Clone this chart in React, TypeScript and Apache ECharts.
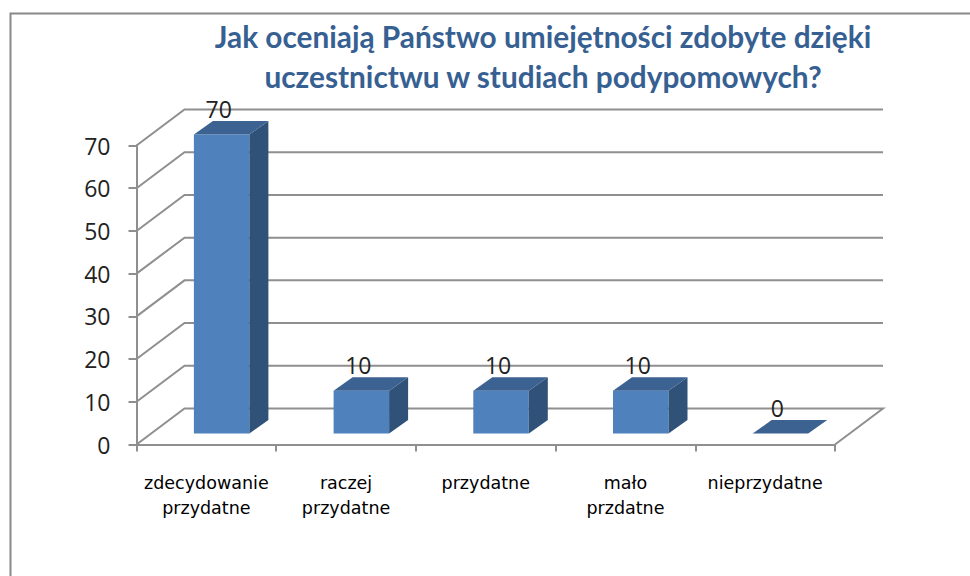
import React, { useEffect, useRef } from "react";
import * as echarts from "echarts";

const categories = ["zdecydowanie\nprzydatne", "raczej\nprzydatne", "przydatne", "mało\nprzdatne", "nieprzydatne"];
const values = [70, 10, 10, 10, 0];
const yTicks = [0, 10, 20, 30, 40, 50, 60, 70];
const titleText = "Jak oceniają Państwo umiejętności zdobyte dzięki\nuczestnictwu w studiach podypomowych?";

const GRID_COLOR = "#8f8f8f";
const WALL_DX = 48;
const WALL_DY = 36;
const BAR_DX = 19;
const BAR_DY = 13.5;
const BAR_SHIFT_X = 15.3;
const BAR_SHIFT_Y = 11;
const BAR_W = 55.5;

export default function App() {
  const ref = useRef<HTMLDivElement>(null);
  useEffect(() => {
    document.body.style.margin = "0";
    const chart = echarts.init(ref.current!, null, { renderer: "svg" });
    chart.setOption({
      animation: false,
      backgroundColor: "#ffffff",
      title: {
        text: titleText,
        left: 538,
        top: 11,
        textAlign: "center",
        textStyle: { fontFamily: "Lato", fontWeight: "bold", fontSize: 29.8, lineHeight: 40, color: "#376092" },
      },
      grid: { left: 136.5, right: 135, top: 145.5, bottom: 131.5 },
      xAxis: {
        type: "category",
        data: categories,
        axisLine: { lineStyle: { color: GRID_COLOR, width: 2 } },
        axisTick: { show: true, length: 7, lineStyle: { color: GRID_COLOR, width: 2 } },
        axisLabel: { interval: 0, margin: 26, fontFamily: "DejaVu Sans", fontSize: 17.5, lineHeight: 25, color: "#000000" },
      },
      yAxis: {
        type: "value",
        min: 0,
        max: 70,
        interval: 10,
        splitLine: { show: false },
        axisLine: { show: true, lineStyle: { color: GRID_COLOR, width: 2 } },
        axisTick: { show: true, length: 8, lineStyle: { color: GRID_COLOR, width: 2 } },
        axisLabel: { margin: 26, fontFamily: "Open Sans", fontSize: 23, color: "#222222", padding: [3, 0, 0, 0] },
      },
      graphic: [
        {
          type: "polyline",
          silent: true,
          shape: { points: [[10.5, 576], [10.5, 13.5], [970, 13.5]] },
          style: { stroke: "#888888", lineWidth: 2, fill: "none" },
        },
      ],
      series: [
        {
          type: "custom",
          coordinateSystem: "cartesian2d",
          clip: false,
          silent: true,
          z: 1,
          data: yTicks.map((t) => [0, t]),
          encode: { x: 0, y: 1 },
          renderItem: (params: any, api: any) => {
            const v = api.value(1);
            const y = api.coord([0, v])[1];
            const left = params.coordSys.x;
            const right = left + params.coordSys.width;
            const line = { stroke: GRID_COLOR, lineWidth: 2, fill: "none" };
            const points: number[][] = [[left, y], [left + WALL_DX, y - WALL_DY], [right + WALL_DX, y - WALL_DY]];
            if (v === 0) points.push([right, y]);
            return { type: "polyline", shape: { points }, style: line };
          },
        },
        {
          type: "custom",
          coordinateSystem: "cartesian2d",
          clip: false,
          silent: true,
          z: 3,
          data: values.map((v, i) => [i, v]),
          encode: { x: 0, y: 1 },
          renderItem: (_params: any, api: any) => {
            const i = api.value(0);
            const v = api.value(1);
            const top = api.coord([i, v]);
            const base = api.coord([i, 0]);
            const x0 = top[0] + BAR_SHIFT_X - BAR_W / 2;
            const x1 = x0 + BAR_W;
            const yb = base[1] - BAR_SHIFT_Y;
            const yt = top[1] - BAR_SHIFT_Y;
            const children: any[] = [];
            if (v > 0) {
              children.push({
                type: "polygon",
                shape: { points: [[x0, yb], [x1, yb], [x1, yt], [x0, yt]] },
                style: { fill: "#4f81bd" },
              });
              children.push({
                type: "polygon",
                shape: { points: [[x1, yb], [x1 + BAR_DX, yb - BAR_DY], [x1 + BAR_DX, yt - BAR_DY], [x1, yt]] },
                style: { fill: "#305279" },
              });
            }
            children.push({
              type: "polygon",
              shape: { points: [[x0, yt], [x1, yt], [x1 + BAR_DX, yt - BAR_DY], [x0 + BAR_DX, yt - BAR_DY]] },
              style: { fill: "#3b6291" },
            });
            children.push({
              type: "text",
              style: {
                text: String(v),
                x: x0 + BAR_W / 2 - 3,
                y: yt - 26,
                align: "center",
                verticalAlign: "middle",
                fontFamily: "Open Sans",
                fontSize: 23,
                fill: "#222222",
              },
            });
            return { type: "group", children };
          },
        },
      ],
    });
    return () => chart.dispose();
  }, []);
  return <div ref={ref} style={{ position: "absolute", left: 0, top: 0, width: 970, height: 576 }} />;
}
